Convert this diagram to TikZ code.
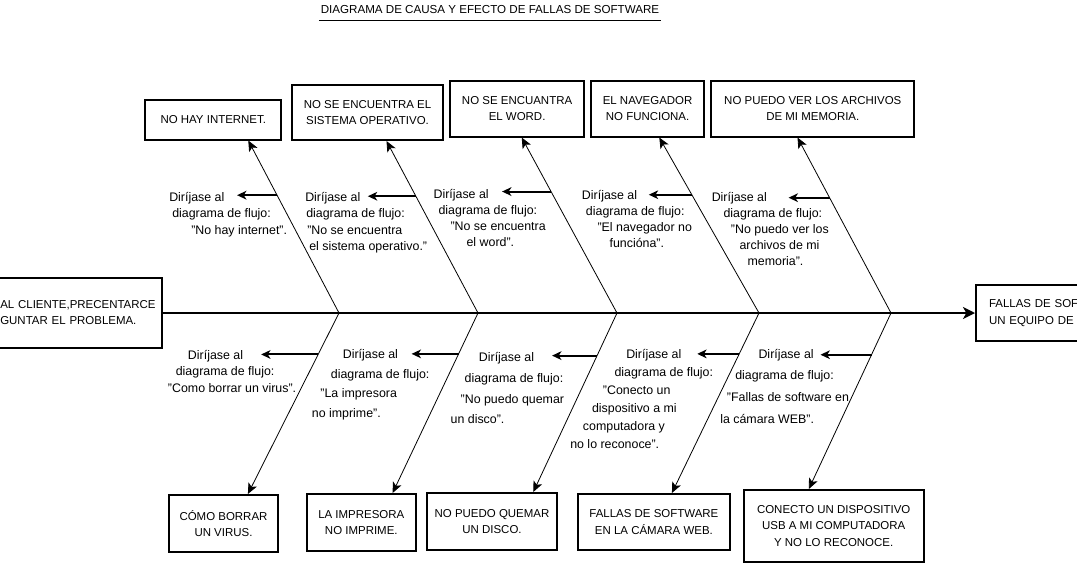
\documentclass[tikz,border=0pt]{standalone}
\usepackage{fontspec}
\setmainfont{Liberation Sans}
\usetikzlibrary{arrows.meta, calc}

\begin{document}
\begin{tikzpicture}[
  x=0.75pt, y=-0.75pt,
  caja/.style={rectangle, draw=black, line width=1.5pt, fill=white,
               align=center, inner sep=2pt,
               font=\fontsize{8.6}{12.6}\selectfont},
  nota/.style={align=left, inner sep=0pt, anchor=north west,
               font=\fontsize{9.3}{#1}\selectfont},
  espina/.style={line width=1.5pt, -{Stealth[length=9pt, width=9pt, inset=2.5pt]}},
  hueso/.style={line width=0.6pt, -{Stealth[length=8pt, width=7pt, inset=2pt]}},
  flecha/.style={line width=1.5pt, -{Stealth[length=7pt, width=6.5pt, inset=2pt]}}
]

\useasboundingbox (0,0) rectangle (1077,565);
\clip (0,0) rectangle (1077,565);
\fill[white] (0,0) rectangle (1077,565);

% Title
\node[font=\fontsize{8.7}{10}\selectfont, inner xsep=1.2pt, inner ysep=4.5pt, anchor=base]
  (titulo) at (490,13.8) {DIAGRAMA DE CAUSA Y EFECTO DE FALLAS DE SOFTWARE};
\draw[line width=0.75pt] (titulo.south west) -- (titulo.south east);

% Head and tail
\node[caja, anchor=east, align=left, text width=119.25pt, inner xsep=2.25pt,
      minimum height=52.3pt, font=\fontsize{8.6}{12}\selectfont]
  (inicio) at (163.3,313) {AL CLIENTE,PRECENTARCE\\GUNTAR EL PROBLEMA.};
\node[caja, anchor=west, align=left, text width=97.5pt, inner xsep=9.75pt,
      minimum height=41.5pt]
  (fallas) at (975,313) {FALLAS DE SOF\\UN EQUIPO DE};

% Spine
\draw[espina] (inicio) -- (fallas);
\coordinate (J1) at (339,313);
\coordinate (J2) at (478,313);
\coordinate (J3) at (617,313);
\coordinate (J4) at (759,313);
\coordinate (J5) at (891,313);

% Top causes
\node[caja, minimum width=102pt,   minimum height=30pt] (T1) at (213.3,119.5) {NO HAY INTERNET.};
\node[caja, minimum width=113.6pt, minimum height=41.25pt] (T2) at (367.5,112.5) {NO SE ENCUENTRA EL\\SISTEMA OPERATIVO.};
\node[caja, minimum width=100pt,   minimum height=42pt] (T3) at (517.1,108.5) {NO SE ENCUANTRA\\EL WORD.};
\node[caja, minimum width=85.3pt,  minimum height=42pt] (T4) at (647.6,108.5) {EL NAVEGADOR\\NO FUNCIONA.};
\node[caja, minimum width=152.3pt, minimum height=42pt] (T5) at (812.8,108.5) {NO PUEDO VER LOS ARCHIVOS\\DE MI MEMORIA.};

% Bottom causes
\node[caja, minimum width=82.1pt,  minimum height=42.75pt] (B1) at (223.5,523.5) {CÓMO BORRAR\\UN VIRUS.};
\node[caja, minimum width=82.1pt,  minimum height=42.75pt] (B2) at (361.3,522.5) {LA IMPRESORA\\NO IMPRIME.};
\node[caja, minimum width=97.5pt,  minimum height=42.75pt] (B3) at (492,521.5) {NO PUEDO QUEMAR\\UN DISCO.};
\node[caja, minimum width=114.2pt, minimum height=42pt] (B4) at (653.9,522) {FALLAS DE SOFTWARE\\EN LA CÁMARA WEB.};
\node[caja, minimum width=134.9pt, minimum height=54pt] (B5) at (833.7,526) {CONECTO UN DISPOSITIVO\\USB A MI COMPUTADORA\\Y NO LO RECONOCE.};

% Top bones
\draw[hueso] (J1) -- coordinate[pos=.683] (h1) ($(T1.south)+(35,0)$);
\draw[hueso] (J2) -- coordinate[pos=.679] (h2) ($(T2.south)+(19,0)$);
\draw[hueso] (J3) -- coordinate[pos=.692] (h3) ($(T3.south)+(4.6,0)$);
\draw[hueso] (J4) -- coordinate[pos=.674] (h4) ($(T4.south)+(11.7,0)$);
\draw[hueso] (J5) -- coordinate[pos=.657] (h5) ($(T5.south)+(-15.3,0)$);

% Bottom bones
\draw[hueso] (J1) -- coordinate[pos=.229] (k1) ($(B1.north)+(24.4,0)$);
\draw[hueso] (J2) -- coordinate[pos=.227] (k2) ($(B2.north)+(31.3,0)$);
\draw[hueso] (J3) -- coordinate[pos=.238] (k3) ($(B3.north)+(41.3,0)$);
\draw[hueso] (J4) -- coordinate[pos=.227] (k4) ($(B4.north)+(18,0)$);
\draw[hueso] (J5) -- coordinate[pos=.237] (k5) ($(B5.north)+(-24.9,0)$);

% Pointers to the flow charts
\draw[flecha] (h1) -- ++(-40,0);
\draw[flecha] (h2) -- ++(-48,0);
\draw[flecha] (h3) -- ++(-49,0);
\draw[flecha] (h4) -- ++(-43,0);
\draw[flecha] (h5) -- ++(-41,0);
\draw[flecha] (k1) -- ++(-57,0);
\draw[flecha] (k2) -- ++(-47,0);
\draw[flecha] (k3) -- ++(-45,0);
\draw[flecha] (k4) -- ++(-42,0);
\draw[flecha] (k5) -- ++(-51,0);

% Notes, top
\node[nota=12.3pt] (nT1) at (169,192) {Diríjase al\\\hspace*{2.25pt}diagrama de flujo:\\\hspace*{16.5pt}"No hay internet".};
\node[nota=12.3pt] (nT2) at (305,192) {Diríjase al\\\hspace*{0.75pt}diagrama de flujo:\\\hspace*{1.5pt}"No se encuentra\\\hspace*{3pt}el sistema operativo."};
\node[nota=12.1pt] (nT3) at (433.3,188.8) {Diríjase al\\\hspace*{3.75pt}diagrama de flujo:\\\hspace*{12.75pt}"No se encuentra\\\hspace*{24.75pt}el word".};
\node[nota=12pt] (nT4) at (581.7,190.5) {Diríjase al\\\hspace*{3pt}diagrama de flujo:\\\hspace*{11.7pt}"El navegador no\\\hspace*{20.7pt}funcióna".};
\node[nota=11.9pt] (nT5) at (711.5,192.5) {Diríjase al\\\hspace*{8.85pt}diagrama de flujo:\\\hspace*{14.4pt}"No puedo ver los\\\hspace*{20.85pt}archivos de mi\\\hspace*{26.85pt}memoria".};

% Notes, bottom
\node[nota=12.3pt] (nB1) at (167.7,349.9) {\hspace*{15pt}Diríjase al\\\hspace*{5.9pt}diagrama de flujo:\\"Como borrar un virus".};
\node[nota=14.6pt] (nB2) at (311.6,349.2) {\hspace*{23.25pt}Diríjase al\\\hspace*{14.25pt}diagrama de flujo:\\\hspace*{6.45pt}"La impresora\\no imprime".};
\node[nota=15.5pt] (nB3) at (450.4,352.5) {\hspace*{21.2pt}Diríjase al\\\hspace*{10.5pt}diagrama de flujo:\\\hspace*{7.5pt}"No puedo quemar\\un disco".};
\node[nota=13.5pt] (nB4) at (570,349.5) {\hspace*{42pt}Diríjase al\\\hspace*{33.2pt}diagrama de flujo:\\\hspace*{24.5pt}"Conecto un\\\hspace*{16.3pt}dispositivo a mi\\\hspace*{9.5pt}computadora y\\no lo reconoce".};
\node[nota=16.3pt] (nB5) at (720,348.8) {\hspace*{28.7pt}Diríjase al\\\hspace*{11.25pt}diagrama de flujo:\\\hspace*{5pt}"Fallas de software en\\la cámara WEB".};

\end{tikzpicture}
\end{document}
